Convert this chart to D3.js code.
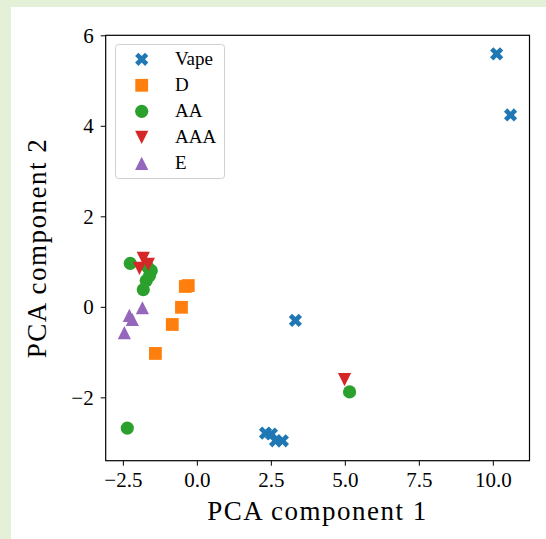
<!DOCTYPE html>
<html>
<head>
<meta charset="utf-8">
<script src="https://cdn.jsdelivr.net/npm/d3@7"></script>
<style>
  body { margin: 0; }
  svg text { font-family: 'Liberation Serif', serif; fill: #000; }
</style>
</head>
<body>
<script>
// series names and colours (tab10)
var names = ["Vape", "D", "AA", "AAA", "E"];
var colors = ["#1f77b4", "#ff7f0e", "#2ca02c", "#d62728", "#9467bd"];
var shapes = ["X", "square", "circle", "down", "up"];

// [PCA 1, PCA 2]
var vape = [[10.13, 5.59], [10.60, 4.24], [3.33, -0.30], [2.32, -2.79], [2.52, -2.81], [2.66, -2.96], [2.89, -2.96]];
var dSet = [[-0.39, 0.45], [-0.29, 0.47], [-0.52, -0.01], [-0.83, -0.39], [-1.40, -1.03]];
var aa = [[-2.25, 0.96], [-1.67, 0.89], [-1.54, 0.80], [-1.60, 0.69], [-1.71, 0.58], [-1.81, 0.38], [-2.35, -2.68], [5.16, -1.88]];
var aaa = [[-1.81, 1.07], [-1.94, 0.85], [-1.64, 0.94], [4.99, -1.61]];
var eSet = [[-1.84, -0.02], [-2.28, -0.19], [-2.18, -0.28], [-2.45, -0.57]];
var series = [vape, dSet, aa, aaa, eSet];

var xTicks = [-2.5, 0, 2.5, 5, 7.5, 10];
var yTicks = [-2, 0, 2, 4, 6];

var W = 546, H = 539;
var mLeft = 105.7, mRight = 529.5, mTop = 35.3, mBottom = 460.7;

var svg = d3.select("body").append("svg").attr("width", W).attr("height", H);
svg.append("rect").attr("width", W).attr("height", H).attr("fill", "#e4f0d8");
svg.append("rect").attr("x", 11).attr("y", 7).attr("width", W - 11).attr("height", H - 7).attr("fill", "#fff");

var x = d3.scaleLinear().domain([-3.08, 11.24]).range([mLeft, mRight]);
var y = d3.scaleLinear().domain([-3.40, 6.0]).range([mBottom, mTop]);

function fmtMinus(s) { return s.replace("-", "\u2212"); }

var xAxis = d3.axisBottom(x).tickValues(xTicks).tickSize(5).tickPadding(6)
  .tickFormat(function(d) { return fmtMinus(d3.format(".1f")(d)); });
var yAxis = d3.axisLeft(y).tickValues(yTicks).tickSize(5).tickPadding(7)
  .tickFormat(function(d) { return fmtMinus(String(d)); });

var gx = svg.append("g").attr("transform", "translate(0," + mBottom + ")").call(xAxis);
var gy = svg.append("g").attr("transform", "translate(" + mLeft + ",0)").call(yAxis);
[gx, gy].forEach(function(g) {
  g.select(".domain").remove();
  g.selectAll("line").attr("stroke", "#000").attr("stroke-width", 1);
  g.selectAll("text").style("font-family", "'Liberation Serif', serif").style("font-size", "21px");
});

// marker paths, h = half size in px
function markerPath(shape, h) {
  if (shape === "circle") {
    return "M" + h + ",0A" + h + "," + h + " 0 1,1 " + (-h) + ",0A" + h + "," + h + " 0 1,1 " + h + ",0Z";
  }
  if (shape === "square") {
    return "M" + (-h) + "," + (-h) + "H" + h + "V" + h + "H" + (-h) + "Z";
  }
  if (shape === "up") {
    return "M0," + (-h) + "L" + h + "," + h + "L" + (-h) + "," + h + "Z";
  }
  if (shape === "down") {
    return "M0," + h + "L" + h + "," + (-h) + "L" + (-h) + "," + (-h) + "Z";
  }
  // filled X, same outline as matplotlib's 'X'
  var base = [[-1, -2], [0, -1], [1, -2], [2, -1], [1, 0], [2, 1], [1, 2], [0, 1], [-1, 2], [-2, 1], [-1, 0], [-2, -1]];
  return "M" + base.map(function(p) { return (p[0] * h / 2).toFixed(2) + "," + (p[1] * h / 2).toFixed(2); }).join("L") + "Z";
}
var halfSize = [6.6, 6.4, 6.6, 6.6, 6.6];

series.forEach(function(data, i) {
  svg.append("g").selectAll("path").data(data).enter().append("path")
    .attr("d", markerPath(shapes[i], halfSize[i]))
    .attr("transform", function(d) { return "translate(" + x(d[0]) + "," + y(d[1]) + ")"; })
    .attr("fill", colors[i]);
});

// frame
svg.append("rect").attr("x", mLeft).attr("y", mTop).attr("width", mRight - mLeft).attr("height", mBottom - mTop)
  .attr("fill", "none").attr("stroke", "#000").attr("stroke-width", 1.2);

// legend
var lg = svg.append("g");
lg.append("rect").attr("x", 115.5).attr("y", 44.5).attr("width", 109).attr("height", 134).attr("rx", 3)
  .attr("fill", "#fff").attr("fill-opacity", 0.8).attr("stroke", "#d0d0d0");
names.forEach(function(n, i) {
  var cy = 59.3 + i * 26;
  lg.append("path").attr("d", markerPath(shapes[i], halfSize[i]))
    .attr("transform", "translate(141.7," + cy + ")").attr("fill", colors[i]);
  lg.append("text").attr("x", 175).attr("y", cy + 6).style("font-size", "19px").text(n);
});

// axis labels
svg.append("text").attr("x", (mLeft + mRight) / 2).attr("y", 520).attr("text-anchor", "middle")
  .style("font-size", "27px").style("letter-spacing", "1.5px").text("PCA component 1");
svg.append("text").attr("transform", "translate(46," + (mTop + mBottom) / 2 + ") rotate(-90)")
  .attr("text-anchor", "middle").style("font-size", "27px").style("letter-spacing", "1.5px").text("PCA component 2");
</script>
</body>
</html>
